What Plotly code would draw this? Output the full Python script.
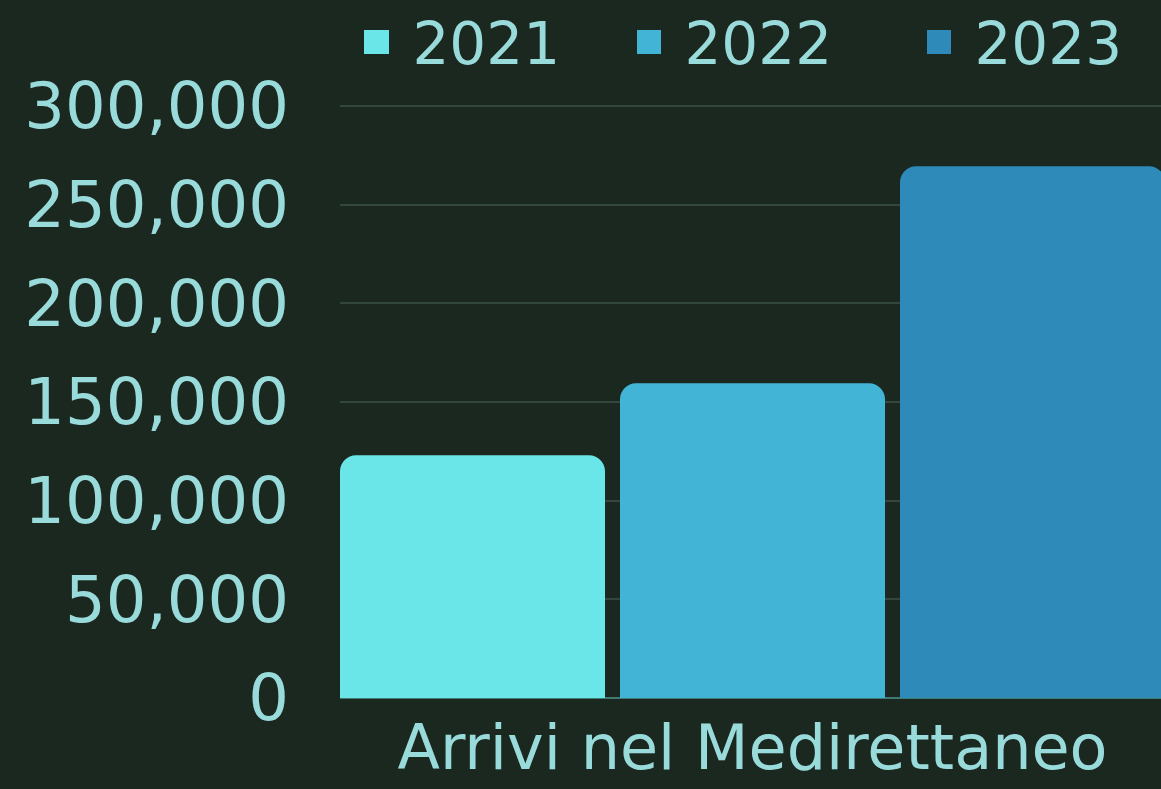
import plotly.graph_objects as go

categories = ["Arrivi nel Medirettaneo"]
years = ["2021", "2022", "2023"]
values_2021 = [123000]
values_2022 = [159500]
values_2023 = [269500]
series_values = [values_2021, values_2022, values_2023]
colors = ["#6ae5e8", "#42b5d6", "#2d8ab9"]
tick_vals = [0, 50000, 100000, 150000, 200000, 250000, 300000]
tick_text = ["0", "50,000", "100,000", "150,000", "200,000", "250,000", "300,000"]

BG = "#1b2820"
TXT = "#99dbdb"
FONT = "DejaVu Sans, Montserrat, sans-serif"

# layout geometry (pixels)
W, H = 1161, 789
L, T, B = 340, 100, 91
PW, PH = W - L, H - T - B

legend_ids = ["legend", "legend2", "legend3"]
legend_px = [354, 626, 916]          # left edge of each legend box
key_px = [(364, 389), (637, 661), (927, 951)]  # legend key squares
key_py = (30, 54)

def px_x(p):
    return (p - L) / PW

def px_y(p):
    return (H - B - p) / PH

fig = go.Figure()
for name, vals, col, lid in zip(years, series_values, colors, legend_ids):
    fig.add_trace(go.Bar(x=categories, y=vals, name=" " + name, legend=lid,
                         marker=dict(color=col, line=dict(width=0))))

bgg = 15 / 280
d = bgg / 6
u = (1 / 3) * bgg / 15
ytop = 300000 + 6 * 300000 / 592

legend_common = dict(orientation="h", xanchor="left", y=1.172, yanchor="top",
                     font=dict(size=58, color=TXT, family=FONT), bgcolor="rgba(0,0,0,0)",
                     itemwidth=30)
layout_legends = {lid: dict(legend_common, x=px_x(lx)) for lid, lx in zip(legend_ids, legend_px)}

shapes = []
for (x0, x1), col in zip(key_px, colors):
    shapes.append(dict(type="rect", xref="paper", yref="paper",
                       x0=px_x(x0), x1=px_x(x1), y0=px_y(key_py[1]), y1=px_y(key_py[0]),
                       fillcolor=col, line=dict(width=0), layer="above"))

fig.update_layout(
    width=W, height=H,
    paper_bgcolor=BG, plot_bgcolor=BG,
    margin=dict(l=L, r=0, t=T, b=B, autoexpand=False),
    barmode="group", bargap=0, bargroupgap=bgg,
    barcornerradius=16,
    font=dict(family=FONT, color=TXT, size=64),
    showlegend=True,
    shapes=shapes,
    **layout_legends,
)
fig.update_xaxes(range=[-0.5 + d, 0.5 - d - 4 * u], showgrid=False, showline=False,
                 tickfont=dict(size=62, color=TXT), ticklabelstandoff=8, zeroline=False,
                 automargin=False)
fig.update_yaxes(range=[0, ytop], tickvals=tick_vals, ticktext=tick_text,
                 tickfont=dict(size=64, color=TXT), gridcolor="#33473d", gridwidth=1.5,
                 zeroline=True, zerolinecolor="#3f7a74", zerolinewidth=1.5,
                 ticklabelstandoff=50, showline=False, automargin=False)

fig.write_html("out.html", config={"displayModeBar": False},
               post_script="document.body.style.margin='0';document.body.style.background='#1b2820';")
